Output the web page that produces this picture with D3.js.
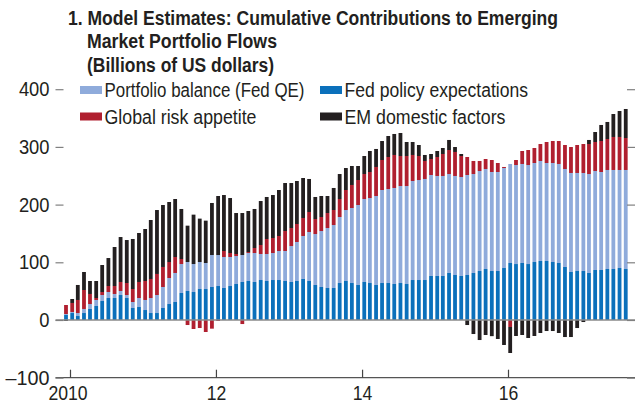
<!DOCTYPE html>
<html>
<head>
<meta charset="utf-8">
<script src="https://cdn.jsdelivr.net/npm/d3@7"></script>
<style>
  body { margin: 0; background: #fff; }
  svg { display: block; font-family: "Liberation Sans", Arial, sans-serif; }
</style>
</head>
<body>
<svg width="635" height="408"></svg>
<script>
// monthly, Jan 2010 .. Sep 2017
const months = d3.timeMonth.range(new Date(2010, 0, 1), new Date(2017, 9, 1));

// Fed policy expectations (dark blue)
const fedPolicy = [8.7, 12.1, 6.9, 12.1, 19.1, 24.3, 32.9, 38.1, 38.1, 43.3, 38.1, 20.8,
  22.5, 17.3, 12.1, 12.1, 20.8, 27.7, 31.2, 46.8, 50.3, 48.5, 53.7, 53.7,
  57.2, 58.9, 55.5, 58.9, 62.4, 65.9, 67.6, 65.9, 69.3, 67.6, 69.3, 69.3,
  67.6, 65.9, 67.6, 71.1, 67.6, 60.7, 57.2, 55.5, 55.5, 64.1, 67.6, 64.1,
  60.7, 65.9, 64.1, 60.7, 64.1, 64.1, 62.4, 64.1, 62.4, 69.3, 69.3, 69.3,
  76.3, 76.3, 76.3, 81.5, 78, 76.3, 78, 81.5, 84.9, 88.4, 84.9, 84.9,
  90.1, 98.8, 97, 98.8, 97, 100.5, 102.3, 102.3, 100.5, 98.8, 91.9, 83.2,
  84.9, 84.9, 81.5, 86.7, 86.7, 88.4, 88.4, 90.1, 88.4];

// Portfolio balance (Fed QE) (light blue)
const fedQE = [1.7, 1.8, 5.2, 7, 8.6, 10.4, 10.4, 10.4, 7, 7, 5.2, 10.4,
  15.6, 17.4, 26, 31.2, 36.4, 45.1, 50.3, 50.2, 50.2, 48.5, 46.8, 45.1,
  55.4, 53.7, 53.7, 50.3, 48.5, 46.7, 48.5, 50.2, 45.1, 46.8, 46.8, 50.3,
  52, 62.3, 67.6, 74.5, 84.9, 88.3, 97, 103.9, 109.1, 114.4, 123, 130,
  138.6, 143.8, 147.3, 154.2, 161.2, 162.9, 166.4, 168.1, 169.8, 171.6, 173.3, 175.1,
  175, 173.3, 173.3, 171.5, 171.6, 171.5, 173.3, 171.5, 173.3, 173.3, 171.6, 171.6,
  173.3, 171.6, 171.6, 171.6, 171.6, 171.6, 173.3, 169.8, 171.6, 171.6, 169.8, 171.6,
  169.9, 169.9, 171.5, 171.5, 169.8, 171.6, 171.6, 169.9, 171.6];

// Global risk appetite (red)
const riskAppetite = [15.6, 15.6, 22.6, 32.9, 17.4, 3.4, 5.2, 10.4, 13.8, 15.6, 20.8, 22.5,
  27.8, 32.9, 33, 36.5, 34.7, 27.7, 27.7, 8.7, -8.7, -15.6, -13.9, -20.8,
  -15, -1.7, 10.4, 6.9, 3.5, -7, 1.7, 8.7, 15.6, 26, 26, 26,
  34.6, 31.2, 31.2, 31.2, 34.7, 26, 24.3, 26, 26, 31.2, 34.7, 39.9,
  43.3, 43.3, 45.1, 50.3, 52, 55.5, 57.2, 52, 52, 45.1, 41.6, 31.2,
  27.7, 32.9, 38.1, 41.6, 41.6, 36.4, 31.2, 22.6, 17.4, 17.3, 20.8, 15.6,
  1.8, -12.1, 8.7, 22.5, 26, 26, 29.4, 36.4, 38.1, 39.8, 41.6, 45,
  48.5, 50.2, 52, 50.3, 53.7, 53.7, 57.2, 57.2, 55.4];

// EM domestic factors (black)
const emDomestic = [-1.7, 6.9, 26, 31.2, 22.5, 29.5, 46.8, 48.5, 67.6, 77.9, 74.5, 86.7,
  84.9, 90.1, 102.2, 110.8, 107.4, 104, 100.5, 86.7, 63, 85.6, 75.2, 73.4,
  90.2, 102.3, 97, 95.3, 71, 72.8, 71.1, 67.6, 76.2, 72.8, 74.5, 79.7,
  83.2, 78, 74.5, 69.3, 57.2, 38.2, 36.4, 29.5, 38.2, 43.3, 38.1, 32.9,
  24.3, 31.2, 36.4, 31.2, 32.9, 36.4, 36.4, 39.9, 24.3, 22.5, 19.1, 10.4,
  8.7, 10.4, 10.4, 17.4, 8.6, 3.5, -8.7, -24.3, -34.7, -26, -28, -32.9,
  -43.3, -45.1, -27.7, -26, -31.2, -27.7, -22.5, -19.1, -19.1, -22.5, -29.5, -29.5,
  -13.9, -3.5, 7, 17.3, 27.8, 29.5, 39.8, 45, 50.3];

const seriesKeys = ["policy", "qe", "risk", "em"];
const seriesNames = {
  qe: "Portfolio balance (Fed QE)",
  policy: "Fed policy expectations",
  risk: "Global risk appetite",
  em: "EM domestic factors"
};
const colors = { qe: "#8fabdb", policy: "#0b70bb", risk: "#b01f2f", em: "#231f20" };

const yTicks = [-100, 0, 100, 200, 300, 400];
const xTickYears = [2010, 2012, 2014, 2016];
const xTickLabels = ["2010", "12", "14", "16"];

const titleLines = [
  "1. Model Estimates: Cumulative Contributions to Emerging",
  "Market Portfolio Flows",
  "(Billions of US dollars)"
];

const svg = d3.select("svg");
const left = 55.5, right = 635;

// the reference font is a condensed face; squeeze the text to its widths
function squeeze(sel, w) {
  sel.attr("textLength", w).attr("lengthAdjust", "spacingAndGlyphs");
}

const x = d3.scaleTime()
  .domain([new Date(2010, 0, 1), new Date(2016, 0, 1)])
  .range([70, 508]);
const y = d3.scaleLinear().domain([-100, 400]).range([377.7, 89.2]);

const table = months.map((d, i) => ({
  date: d, qe: fedQE[i], policy: fedPolicy[i], risk: riskAppetite[i], em: emDomestic[i]
}));
const stacked = d3.stack().keys(seriesKeys).offset(d3.stackOffsetDiverging)(table);

const barW = 3.8;
svg.append("g")
  .selectAll("g")
  .data(stacked)
  .join("g")
    .attr("fill", d => colors[d.key])
  .selectAll("rect")
  .data(d => d)
  .join("rect")
    .attr("x", d => x(d.data.date) - 4 - barW / 2)
    .attr("width", barW)
    .attr("y", d => y(Math.max(d[0], d[1])))
    .attr("height", d => Math.abs(y(d[0]) - y(d[1])));

// zero line
svg.append("line")
  .attr("x1", left).attr("x2", right)
  .attr("y1", y(0)).attr("y2", y(0))
  .style("stroke", "#8a8a8a")
  .style("stroke-width", 1.5);

// bottom line
svg.append("line")
  .attr("x1", left).attr("x2", right)
  .attr("y1", y(-100)).attr("y2", y(-100))
  .style("stroke", "#555")
  .style("stroke-width", 1.2);

// y axes
const yAxisL = svg.append("g")
  .attr("transform", `translate(${left},0)`)
  .call(d3.axisLeft(y).tickValues(yTicks).tickSize(-8).tickPadding(6)
    .tickFormat(d => d < 0 ? "\u2013" + Math.abs(d) : d));
yAxisL.select(".domain").remove();
yAxisL.attr("font-family", null).attr("font-size", null);
yAxisL.selectAll("line").style("stroke", "#808080").style("stroke-width", 1.2);
yAxisL.selectAll("text")
  .style("font-size", "20px")
  .attr("fill", "#231f20")
  .each(function (d) {
    d3.select(this).call(squeeze, d < 0 ? 44 : String(d).length * 10.2);
  });

const yAxisR = svg.append("g")
  .attr("transform", `translate(${right},0)`)
  .call(d3.axisRight(y).tickValues(yTicks).tickSize(-8).tickFormat(""));
yAxisR.select(".domain").remove();
yAxisR.selectAll("line").style("stroke", "#808080").style("stroke-width", 1.2);

// x axis
const xAxis = svg.append("g")
  .attr("transform", `translate(0,${y(-100)})`)
  .call(d3.axisBottom(x)
    .tickValues(xTickYears.map(yr => new Date(yr, 0, 1)))
    .tickSize(-8).tickPadding(8)
    .tickFormat((d, i) => xTickLabels[i]));
xAxis.select(".domain").remove();
xAxis.attr("font-family", null).attr("font-size", null);
xAxis.selectAll("line").style("stroke", "#444").style("stroke-width", 1.2);
xAxis.selectAll("text")
  .style("font-size", "20px")
  .attr("fill", "#231f20")
  .attr("dx", (d, i) => i === 0 ? -2.5 : 0)
  .each(function (d, i) {
    d3.select(this).call(squeeze, xTickLabels[i].length * 9.8);
  });

// title
const titleWidths = [490, 190, 187];
svg.append("g")
  .selectAll("text")
  .data(titleLines)
  .join("text")
    .attr("x", (d, i) => i === 0 ? 68 : 87)
    .attr("y", (d, i) => 25 + i * 23.3)
    .style("font-weight", "bold")
    .style("font-size", "20px")
    .attr("fill", "#231f20")
    .text(d => d)
    .each(function (d, i) { d3.select(this).call(squeeze, titleWidths[i]); });

// legend
const legendItems = [
  { key: "qe", x: 80, y: 90, w: 200 },
  { key: "policy", x: 320, y: 90, w: 183.5 },
  { key: "risk", x: 80, y: 116.5, w: 152 },
  { key: "em", x: 320, y: 116.5, w: 161 }
];
const lg = svg.append("g")
  .selectAll("g")
  .data(legendItems)
  .join("g")
    .attr("transform", d => `translate(${d.x},${d.y})`);
lg.append("rect")
  .attr("x", 0).attr("y", -4)
  .attr("width", 22).attr("height", 8)
  .attr("fill", d => colors[d.key]);
lg.append("text")
  .attr("x", 24.5).attr("y", 7)
  .style("font-size", "20px")
  .attr("fill", "#231f20")
  .text(d => seriesNames[d.key])
  .each(function (d) { d3.select(this).call(squeeze, d.w); });
</script>
</body>
</html>
